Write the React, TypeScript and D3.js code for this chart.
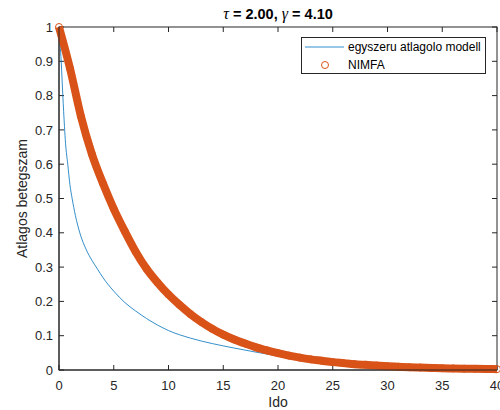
import { useEffect, useRef } from "react";
import * as d3 from "d3";

// NIMFA solution at integer times 0..40
const nimfaT = d3.range(0, 41);
const nimfaV = [
  1.0, 0.88, 0.74, 0.63, 0.545, 0.47, 0.405, 0.345, 0.295, 0.255, 0.22, 0.19,
  0.163, 0.14, 0.12, 0.103, 0.089, 0.077, 0.066, 0.057, 0.049, 0.042, 0.036,
  0.031, 0.027, 0.023, 0.02, 0.017, 0.015, 0.013, 0.011, 0.0095, 0.008, 0.007,
  0.006, 0.005, 0.0045, 0.004, 0.0035, 0.003, 0.0025,
];

// simple mean-field model ("egyszeru atlagolo modell")
const modelT = [
  0, 0.1, 0.2, 0.35, 0.5, 0.6, 0.8, 1.0, 1.2, 1.5, 1.9, 2.5, 3, 3.5, 4, 5, 6,
  7, 8, 9, 10, 12, 14, 16, 18, 20, 22, 25, 28, 30, 33, 36, 40,
];
const modelV = [
  1.0, 0.95, 0.9, 0.8, 0.71, 0.66, 0.6, 0.54, 0.5, 0.45, 0.4, 0.35, 0.32,
  0.295, 0.27, 0.23, 0.197, 0.172, 0.15, 0.131, 0.115, 0.093, 0.077, 0.064,
  0.052, 0.041, 0.032, 0.021, 0.012, 0.008, 0.004, 0.002, 0.001,
];

const xTicks = [0, 5, 10, 15, 20, 25, 30, 35, 40];
const yTicks = [0, 0.1, 0.2, 0.3, 0.4, 0.5, 0.6, 0.7, 0.8, 0.9, 1];
const legendLabels = ["egyszeru atlagolo modell", "NIMFA"];

const BLUE = "#0072BD";
const ORANGE = "#D95319";
const AXIS = "#262626";

export default function App() {
  const ref = useRef<SVGSVGElement | null>(null);

  useEffect(() => {
    const width = 500;
    const height = 410;
    const margin = { top: 27, right: 3, bottom: 40, left: 59 };
    const w = width - margin.left - margin.right;
    const h = height - margin.top - margin.bottom;

    const svg = d3.select(ref.current);
    svg.selectAll("*").remove();
    svg.attr("font-family", "'Liberation Sans', Arial, sans-serif");

    const g = svg
      .append("g")
      .attr("transform", `translate(${margin.left},${margin.top})`);

    const x = d3.scaleLinear().domain([0, 40]).range([0, w]);
    const y = d3.scaleLinear().domain([0, 1]).range([h, 0]);

    // box
    g.append("rect")
      .attr("x", 0)
      .attr("y", 0)
      .attr("width", w)
      .attr("height", h)
      .attr("fill", "white")
      .attr("stroke", AXIS)
      .attr("stroke-width", 1);

    // ticks (inward, all four sides)
    const tl = 5;
    xTicks.forEach((t) => {
      g.append("line")
        .attr("x1", x(t)).attr("x2", x(t))
        .attr("y1", h).attr("y2", h - tl)
        .attr("stroke", AXIS);
      g.append("line")
        .attr("x1", x(t)).attr("x2", x(t))
        .attr("y1", 0).attr("y2", tl)
        .attr("stroke", AXIS);
      g.append("text")
        .attr("x", x(t))
        .attr("y", h + 20)
        .attr("text-anchor", "middle")
        .attr("font-size", 13)
        .attr("fill", AXIS)
        .text(String(t));
    });
    yTicks.forEach((v) => {
      g.append("line")
        .attr("x1", 0).attr("x2", tl)
        .attr("y1", y(v)).attr("y2", y(v))
        .attr("stroke", AXIS);
      g.append("line")
        .attr("x1", w).attr("x2", w - tl)
        .attr("y1", y(v)).attr("y2", y(v))
        .attr("stroke", AXIS);
      g.append("text")
        .attr("x", -6)
        .attr("y", y(v))
        .attr("dy", "0.36em")
        .attr("text-anchor", "end")
        .attr("font-size", 13)
        .attr("fill", AXIS)
        .text(d3.format("~g")(v));
    });

    const plot = g.append("g");

    const line = d3
      .line<[number, number]>()
      .x((d) => x(d[0]))
      .y((d) => y(d[1]))
      .curve(d3.curveMonotoneX);

    // blue model line
    const modelData = modelT.map((t, i) => [t, modelV[i]] as [number, number]);
    plot.append("path")
      .datum(modelData)
      .attr("fill", "none")
      .attr("stroke", BLUE)
      .attr("stroke-width", 0.8)
      .attr("d", line);

    // NIMFA: dense open circles form a thick band
    const nimfaData = nimfaT.map((t, i) => [t, nimfaV[i]] as [number, number]);
    plot.append("path")
      .datum(nimfaData)
      .attr("fill", "none")
      .attr("stroke", ORANGE)
      .attr("stroke-width", 8)
      .attr("stroke-linejoin", "round")
      .attr("d", line);
    plot.selectAll("circle")
      .data(nimfaData)
      .join("circle")
      .attr("cx", (d) => x(d[0]))
      .attr("cy", (d) => y(d[1]))
      .attr("r", 3.5)
      .attr("fill", "none")
      .attr("stroke", ORANGE)
      .attr("stroke-width", 1);

    // redraw left/bottom axes on top
    g.append("line").attr("x1", 0).attr("x2", 0).attr("y1", 0).attr("y2", h).attr("stroke", AXIS);
    g.append("line").attr("x1", 0).attr("x2", w).attr("y1", h).attr("y2", h).attr("stroke", AXIS);

    // title
    const title = svg
      .append("text")
      .attr("x", margin.left + w / 2)
      .attr("y", 19)
      .attr("text-anchor", "middle")
      .attr("font-size", 14.5)
      .attr("font-weight", "bold")
      .attr("fill", "#000");
    const greek = (s: string) =>
      title.append("tspan")
        .attr("font-family", "'Liberation Serif', serif")
        .attr("font-style", "italic")
        .attr("font-weight", "normal")
        .attr("font-size", 16)
        .text(s);
    greek("τ");
    title.append("tspan").text(" = 2.00, ");
    greek("γ");
    title.append("tspan").text(" = 4.10");

    // axis labels
    svg.append("text")
      .attr("x", margin.left + w / 2)
      .attr("y", 407)
      .attr("text-anchor", "middle")
      .attr("font-size", 14)
      .attr("fill", AXIS)
      .text("Ido");
    svg.append("text")
      .attr("transform", `translate(27,${margin.top + h / 2}) rotate(-90)`)
      .attr("text-anchor", "middle")
      .attr("font-size", 14)
      .attr("fill", AXIS)
      .text("Atlagos betegszam");

    // legend
    const lg = svg.append("g").attr("transform", "translate(301,37)");
    lg.append("rect")
      .attr("x", 0.5).attr("y", 0.5)
      .attr("width", 184).attr("height", 36)
      .attr("fill", "white")
      .attr("stroke", AXIS);
    lg.append("line")
      .attr("x1", 4).attr("x2", 43)
      .attr("y1", 10).attr("y2", 10)
      .attr("stroke", BLUE)
      .attr("stroke-width", 0.8);
    lg.append("circle")
      .attr("cx", 24).attr("cy", 28)
      .attr("r", 3.5)
      .attr("fill", "none")
      .attr("stroke", ORANGE);
    legendLabels.forEach((lab, i) => {
      lg.append("text")
        .attr("x", 47)
        .attr("y", 10 + i * 18)
        .attr("dy", "0.36em")
        .attr("font-size", 12)
        .attr("fill", "#000")
        .text(lab);
    });
  }, []);

  return (
    <svg
      ref={ref}
      width={500}
      height={410}
      style={{ position: "absolute", left: 0, top: 0, background: "white" }}
    />
  );
}
